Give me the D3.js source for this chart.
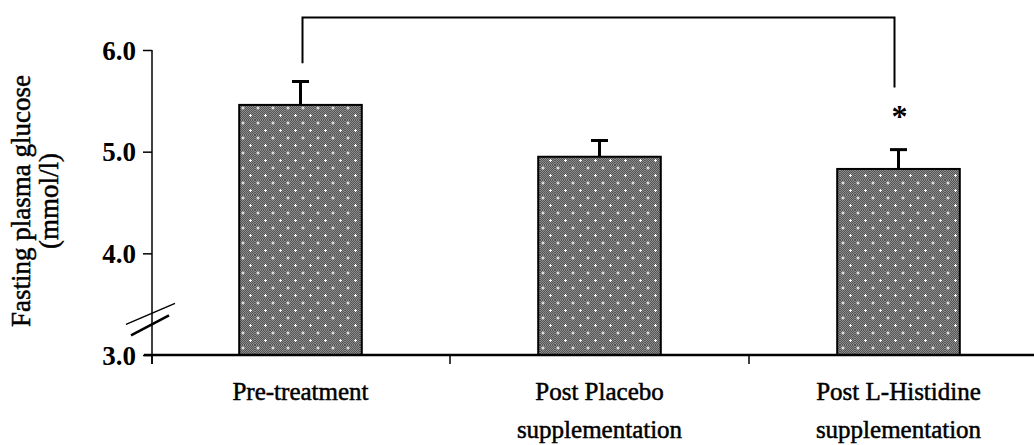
<!DOCTYPE html>
<html>
<head>
<meta charset="utf-8">
<script src="https://cdn.jsdelivr.net/npm/d3@7"></script>
<style>
  html, body { margin: 0; padding: 0; background: #fff; }
  svg { display: block; }
  text { font-family: "Liberation Serif", "Times New Roman", serif; fill: #000; }
</style>
</head>
<body>
<svg id="chart" width="1034" height="445"></svg>
<script>
// Fasting plasma glucose by treatment phase (mean ± SEM)
const categories = [
  ["Pre-treatment"],
  ["Post Placebo", "supplementation"],
  ["Post L-Histidine", "supplementation"]
];
const meanGlucose = [5.46, 4.95, 4.83];
const semGlucose = [0.23, 0.16, 0.19];
const yTicks = [3.0, 4.0, 5.0, 6.0];
const yTitle = ["Fasting plasma glucose", "(mmol/l)"];
// significance bracket between pre-treatment and post L-histidine
const bracket = { from: 0, to: 2, top: 6.32, leftEnd: 5.87, rightEnd: 5.63, star: 5.39 };

const svg = d3.select("#chart");
const keys = categories.map((d, i) => i);

const x = d3.scaleBand().domain(keys).range([151, 1048]).padding(0);
const y = d3.scaleLinear().domain([3, 6]).range([355, 50]);
const barW = x.step() * 0.41;

// dotted halftone fill for the bars
const defs = svg.append("defs");
const pat = defs.append("pattern")
  .attr("id", "dots").attr("patternUnits", "userSpaceOnUse")
  .attr("width", 15).attr("height", 15);
pat.append("rect").attr("width", 15).attr("height", 15).attr("fill", "#8c8c8c");
for (let i = 0; i < 15; i++) {
  for (let j = 0; j < 15; j++) {
    if ((i + j) % 2 === 0) {
      pat.append("rect").attr("x", i).attr("y", j).attr("width", 1).attr("height", 1).attr("fill", "#555");
    }
  }
}
[[3, 3], [10.5, 10.5]].forEach(([cx, cy]) => {
  pat.append("rect").attr("x", cx - 1.5).attr("y", cy - 0.5).attr("width", 3).attr("height", 1).attr("fill", "#fff");
  pat.append("rect").attr("x", cx - 0.5).attr("y", cy - 1.5).attr("width", 1).attr("height", 3).attr("fill", "#fff");
});

// bars
svg.append("g").selectAll("rect").data(keys).join("rect")
  .attr("x", i => x(i) + x.bandwidth() / 2 - barW / 2)
  .attr("y", i => y(meanGlucose[i]))
  .attr("width", barW)
  .attr("height", i => y(3) - y(meanGlucose[i]))
  .attr("fill", "url(#dots)")
  .attr("stroke", "#000").attr("stroke-width", 2);

// error bars (upper whisker only)
const err = svg.append("g").attr("stroke", "#000");
keys.forEach(i => {
  const cx = x(i) + x.bandwidth() / 2;
  err.append("line").attr("x1", cx).attr("x2", cx)
    .attr("y1", y(meanGlucose[i])).attr("y2", y(meanGlucose[i] + semGlucose[i]))
    .attr("stroke-width", 3);
  err.append("line").attr("x1", cx - 8.5).attr("x2", cx + 8.5)
    .attr("y1", y(meanGlucose[i] + semGlucose[i])).attr("y2", y(meanGlucose[i] + semGlucose[i]))
    .attr("stroke-width", 3);
});

// y axis
const yAxis = svg.append("g").attr("transform", "translate(152,0)")
  .call(d3.axisLeft(y).tickValues(yTicks).tickFormat(d3.format(".1f")).tickSize(9).tickPadding(7));
yAxis.select(".domain").attr("d", `M0,${y(6)}V${y(3) + 9}`).attr("stroke-width", 1.5);
yAxis.selectAll(".tick line").attr("stroke-width", 1.5);
yAxis.selectAll(".tick text").attr("font-size", 27).attr("font-weight", "bold")
  .attr("dy", "0.34em")
  .style("font-family", "'Liberation Serif', serif");

// axis break marks
const yb = y(3.4);
svg.append("line").attr("x1", 126).attr("y1", yb + 10).attr("x2", 175).attr("y2", yb - 11)
  .attr("stroke", "#000").attr("stroke-width", 1.5);
svg.append("line").attr("x1", 131).attr("y1", yb + 21).attr("x2", 169).attr("y2", yb + 1)
  .attr("stroke", "#000").attr("stroke-width", 2.5);

// x axis
const xAxis = svg.append("g").attr("transform", `translate(0,${y(3)})`)
  .call(d3.axisBottom(x).tickSize(0).tickFormat(""));
xAxis.select(".domain").attr("d", "M144,0H1034").attr("stroke-width", 2.5);
xAxis.append("g").selectAll("line").data(keys).join("line")
  .attr("x1", i => x(i) + (i === 0 ? 1 : 0)).attr("x2", i => x(i) + (i === 0 ? 1 : 0))
  .attr("y1", 0).attr("y2", 9).attr("stroke", "#000").attr("stroke-width", 1.5);
xAxis.selectAll(".tick").each(function (i) {
  const t = d3.select(this).select("text").attr("y", 0).attr("dy", null)
    .attr("font-size", 25).attr("fill", "#000")
    .attr("stroke", "#000").attr("stroke-width", 0.5)
    .style("font-family", "'Liberation Serif', serif");
  t.text(null);
  categories[i].forEach((line, k) => {
    t.append("tspan").attr("x", 0).attr("y", 45 + k * 38).text(line);
  });
});

// y title
const yt = svg.append("text").attr("transform", "translate(0,201) rotate(-90)")
  .attr("text-anchor", "middle").attr("font-size", 27)
  .attr("stroke", "#000").attr("stroke-width", 0.5);
yTitle.forEach((line, k) => {
  yt.append("tspan").attr("x", 0).attr("y", 30 + k * 28).text(line);
});

// significance bracket
const bx0 = x(bracket.from) + x.bandwidth() / 2 + 2;
const bx1 = x(bracket.to) + x.bandwidth() / 2 - 4;
svg.append("path")
  .attr("d", `M${bx0},${y(bracket.leftEnd)}V${y(bracket.top)}H${bx1}V${y(bracket.rightEnd)}`)
  .attr("fill", "none").attr("stroke", "#000").attr("stroke-width", 2);
svg.append("text").attr("x", x(bracket.to) + x.bandwidth() / 2 + 1).attr("y", y(bracket.star) + 15)
  .attr("text-anchor", "middle").attr("font-size", 32).attr("font-weight", "bold").text("*");
</script>
</body>
</html>
